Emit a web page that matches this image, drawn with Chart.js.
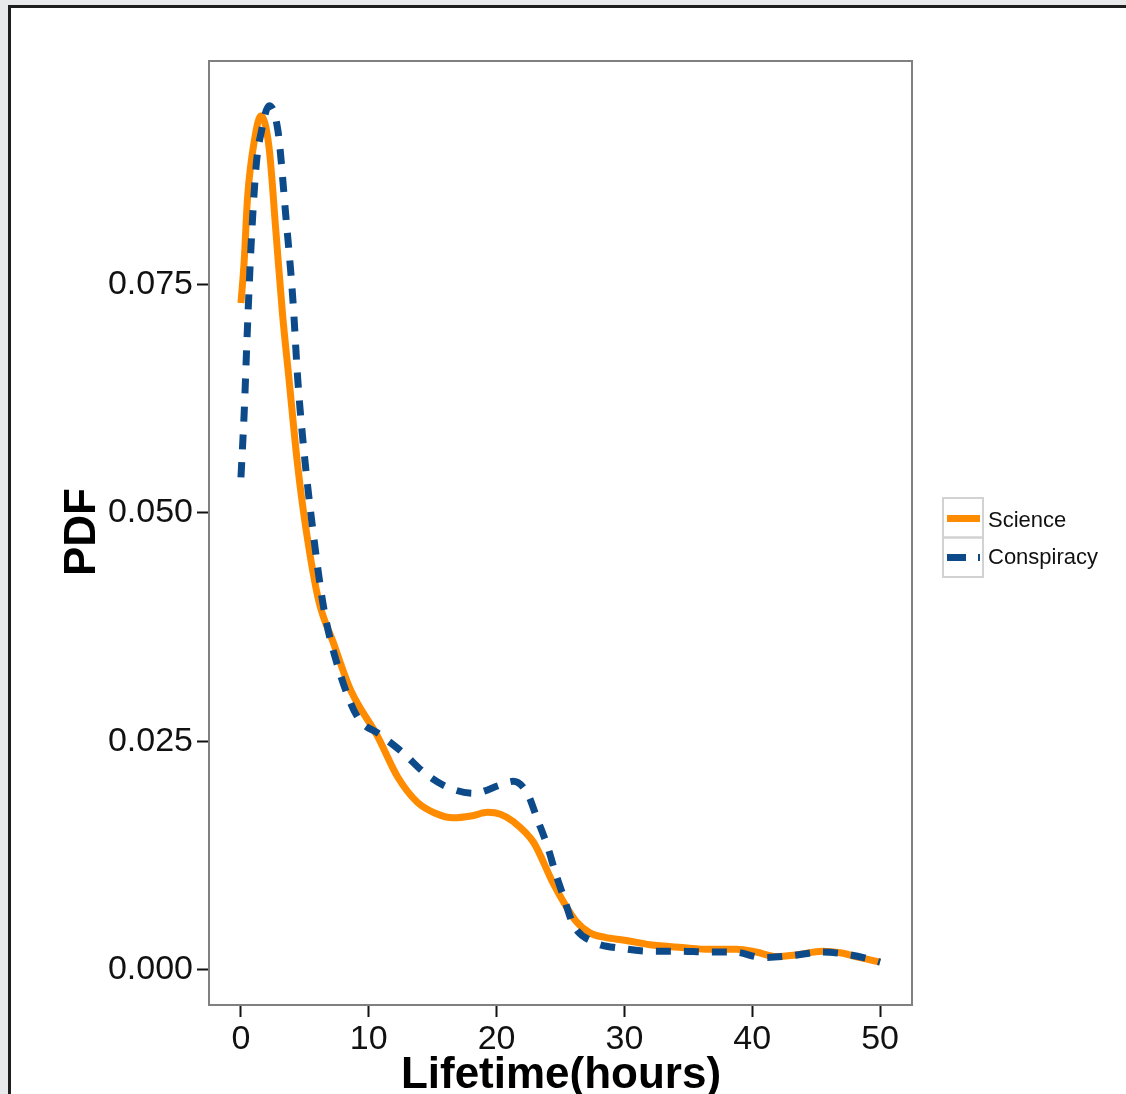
<!DOCTYPE html>
<html>
<head>
<meta charset="utf-8">
<script src="https://cdn.jsdelivr.net/npm/chart.js@4.4.1/dist/chart.umd.min.js"></script>
<style>
    html, body { margin: 0; padding: 0; background: #e8e9eb; }
    body { width: 1126px; height: 1094px; position: relative; overflow: hidden; }
    .frame { position: absolute; left: 8px; top: 5px; right: -10px; bottom: -10px; background: #fff; border-left: 3px solid #1e1e1e; border-top: 3px solid #1e1e1e; }
    #chart { position: absolute; left: 0; top: 0; }
</style>
</head>
<body>
<div class="frame"></div>
<canvas id="chart" width="1126" height="1094"></canvas>
<script>
/* ── data ───────────────────────────────────────────────── */
const scienceLifetime = [0, 0.25, 0.52, 1.04, 1.56, 2.2, 2.73, 3.25, 3.77, 4.42, 5.07, 6.08, 7.25, 8.58, 10.7, 12.25, 13.8, 15.2, 16.6, 18.0, 19.3, 20.3, 21.3, 22.9, 24.4, 25.4, 26.2, 27.3, 28.5, 30, 32, 34.5, 36.7, 38.8, 40.3, 41.9, 43.5, 45.5, 47, 48.1, 50];
const sciencePdf = [0.073, 0.0775, 0.0846, 0.0907, 0.0935, 0.090, 0.0809, 0.0718, 0.0645, 0.0554, 0.0484, 0.0404, 0.0357, 0.0306, 0.0255, 0.0211, 0.0183, 0.0171, 0.0166, 0.0168, 0.0172, 0.0170, 0.0162, 0.0139, 0.0095, 0.0070, 0.0053, 0.0040, 0.0035, 0.0032, 0.0027, 0.0024, 0.0022, 0.0022, 0.0019, 0.0014, 0.0016, 0.0020, 0.0018, 0.0014, 0.0008];

const conspiracyLifetime = [0, 0.25, 0.5, 0.8, 1.2, 1.6, 2.2, 2.9, 3.5, 4.05, 4.45, 4.9, 5.6, 6.5, 7.6, 9.1, 10.9, 12.7, 14.3, 16.1, 18.2, 20.3, 21.3, 22.4, 23.2, 24.0, 24.6, 25.3, 26.0, 27.6, 29.8, 32.0, 34.3, 36.5, 38.6, 40.8, 43.1, 45.4, 47.6, 49.5, 50];
const conspiracyPdf = [0.0539, 0.0609, 0.070, 0.0795, 0.0882, 0.0918, 0.0946, 0.0918, 0.0827, 0.0736, 0.0645, 0.0572, 0.0484, 0.0394, 0.0331, 0.0277, 0.0257, 0.0237, 0.0216, 0.0200, 0.0193, 0.0202, 0.0206, 0.0193, 0.0164, 0.0134, 0.0106, 0.0077, 0.0049, 0.0030, 0.0023, 0.0020, 0.0020, 0.0019, 0.0019, 0.0013, 0.0015, 0.0019, 0.0016, 0.0010, 0.0008];

const xTicks = [0, 10, 20, 30, 40, 50];
const yTicks = [0, 0.025, 0.05, 0.075];
const seriesNames = ['Science', 'Conspiracy'];

const ORANGE = '#ff8c00';
const BLUE = '#0c4a8a';
const FONT = '"Liberation Sans", Arial, Helvetica, sans-serif';

const toPoints = (xs, ys) => xs.map((x, i) => ({ x, y: ys[i] }));

// panel border, axis titles and the ggplot-style legend
const decorations = {
    id: 'decorations',
    afterDatasetsDraw(chart) {
        const { ctx, chartArea: a } = chart;
        ctx.save();
        ctx.strokeStyle = '#808080';
        ctx.lineWidth = 2;
        ctx.strokeRect(a.left, a.top, a.right - a.left, a.bottom - a.top);
        ctx.restore();
    },
    afterDraw(chart) {
        const { ctx } = chart;
        ctx.save();
        ctx.fillStyle = '#000';
        ctx.font = `bold 44px ${FONT}`;
        ctx.textAlign = 'center';
        ctx.textBaseline = 'alphabetic';
        ctx.fillText('Lifetime(hours)', 561, 1088);

        ctx.translate(95, 532);
        ctx.rotate(-Math.PI / 2);
        ctx.fillText('PDF', 0, 0);
        ctx.restore();

        // legend keys
        ctx.save();
        ctx.strokeStyle = '#d2d2d2';
        ctx.lineWidth = 2;
        ctx.strokeRect(943, 498, 40, 39.5);
        ctx.strokeRect(943, 537.5, 40, 39.5);

        ctx.lineCap = 'butt';
        ctx.lineWidth = 7;
        ctx.strokeStyle = ORANGE;
        ctx.beginPath(); ctx.moveTo(947, 518.5); ctx.lineTo(980, 518.5); ctx.stroke();

        ctx.strokeStyle = BLUE;
        ctx.setLineDash([19, 12]);
        ctx.beginPath(); ctx.moveTo(947, 557.5); ctx.lineTo(980, 557.5); ctx.stroke();
        ctx.setLineDash([]);

        ctx.fillStyle = '#111';
        ctx.font = `22px ${FONT}`;
        ctx.textAlign = 'left';
        ctx.fillText(seriesNames[0], 988, 527);
        ctx.fillText(seriesNames[1], 988, 564);
        ctx.restore();
    }
};

new Chart(document.getElementById('chart'), {
    type: 'line',
    data: {
        datasets: [
            { label: seriesNames[0], data: toPoints(scienceLifetime, sciencePdf), borderColor: ORANGE, borderWidth: 7, pointRadius: 0, cubicInterpolationMode: 'monotone', order: 1 },
            { label: seriesNames[1], data: toPoints(conspiracyLifetime, conspiracyPdf), borderColor: BLUE, borderWidth: 7, borderDash: [15, 13], borderCapStyle: 'butt', pointRadius: 0, cubicInterpolationMode: 'monotone', order: 0 }
        ]
    },
    options: {
        responsive: false,
        animation: false,
        events: [],
        layout: { padding: { left: 0, top: 61, right: 214, bottom: 0 } },
        plugins: { legend: { display: false }, tooltip: { enabled: false } },
        scales: {
            x: {
                type: 'linear',
                min: -2.5, max: 52.5,
                afterBuildTicks: s => { s.ticks = xTicks.map(v => ({ value: v })); },
                afterFit: s => { s.height = 89; },
                border: { display: false },
                grid: { drawOnChartArea: false, drawTicks: true, tickLength: 12, tickColor: '#111', tickWidth: 2 },
                ticks: { color: '#111', font: { size: 34, family: FONT }, padding: 2, maxRotation: 0, autoSkip: false }
            },
            y: {
                type: 'linear',
                min: -0.0039, max: 0.0995,
                afterBuildTicks: s => { s.ticks = yTicks.map(v => ({ value: v })); },
                afterFit: s => { s.width = 209; },
                border: { display: false },
                grid: { drawOnChartArea: false, drawTicks: true, tickLength: 12, tickColor: '#111', tickWidth: 2 },
                ticks: { color: '#111', font: { size: 34, family: FONT }, padding: 4, callback: v => v.toFixed(3) }
            }
        }
    },
    plugins: [decorations]
});
</script>
</body>
</html>
